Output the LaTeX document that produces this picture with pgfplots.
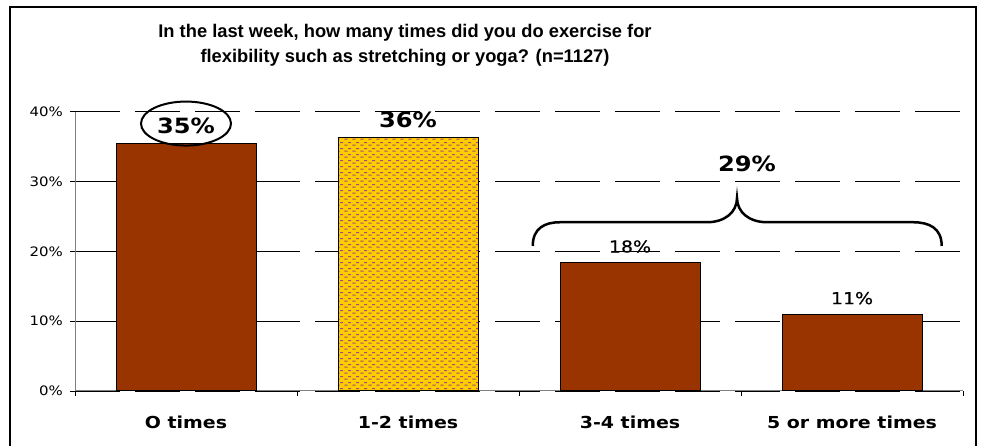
\documentclass[border=0pt]{standalone}
\usepackage{pgfplots}
\pgfplotsset{compat=1.18}
\usepackage{fontspec}
\setmainfont{DejaVu Sans}[FakeStretch=1.15]
\newfontfamily\semibold{DejaVu Sans}[FakeStretch=1.15, FakeBold=0.6]
\newfontfamily\titlefont{Liberation Sans}
\usetikzlibrary{patterns}

\definecolor{barbrown}{HTML}{993300}
\definecolor{bargold}{HTML}{FFCC00}
\definecolor{dotplum}{HTML}{A0507A}

% small staggered dashes for the 1-2 times bar
\pgfdeclarepatternformonly{staggerdash}{\pgfpointorigin}{\pgfpoint{8pt}{6pt}}{\pgfpoint{8pt}{6pt}}{%
  \pgfsetlinewidth{1.1pt}
  \pgfpathmoveto{\pgfpoint{0.5pt}{1pt}}\pgfpathlineto{\pgfpoint{4pt}{1pt}}
  \pgfpathmoveto{\pgfpoint{4.5pt}{4pt}}\pgfpathlineto{\pgfpoint{8pt}{4pt}}
  \pgfusepath{stroke}}

\begin{document}
\begin{tikzpicture}[x=1pt,y=1pt]
\useasboundingbox (0,0) rectangle (982,446);
% chart frame
\draw[line width=1.5pt] (10,-20) -- (10,439) -- (976,439) -- (976,-20);
% title (anchored on the baseline of its second line)
\node[font=\titlefont\bfseries\fontsize{18.3}{25}\selectfont, align=center, anchor=base]
  at (405,383) {In the last week, how many times did you do exercise for\\flexibility such as stretching or yoga? (n=1127)};

\begin{axis}[
  at={(75pt,55pt)}, anchor=south west,
  scale only axis, width=888pt, height=279.3pt,
  xmin=-0.5, xmax=3.5, ymin=0, ymax=40,
  axis x line=bottom, axis y line=left,
  axis line style={-, draw=gray, line width=1pt},
  xtick={0,1,2,3},
  xticklabels={O times, 1-2 times, 3-4 times, 5 or more times},
  minor xtick={-0.5,0.5,1.5,2.5,3.5},
  major x tick style={draw=none},
  minor tick length=5pt,
  ytick={0,10,20,30,40},
  yticklabel={\pgfmathprintnumber{\tick}\%},
  /pgf/number format/assume math mode=true,
  tick align=outside, major tick length=5pt,
  tick style={black, line width=0.8pt},
  ymajorgrids,
  major grid style={black, line width=0.9pt, dash pattern=on 45pt off 15pt},
  yticklabel style={font=\fontsize{13}{15}\selectfont, anchor=east, inner sep=0pt, xshift=-7pt},
  xticklabel style={font=\bfseries\fontsize{16.5}{19}\selectfont, anchor=base, inner sep=0pt, yshift=-33pt},
  ybar, bar width=140pt, bar shift=0pt,
  every axis plot/.append style={draw=black, line width=1pt},
  nodes near coords={\pgfmathprintnumber[fixed,precision=0]{\pgfplotspointmeta}\%},
  every node near coord/.append style={anchor=base, inner sep=0pt, yshift=10pt, black},
  clip=false,
]
% share of respondents, percent
\addplot[fill=barbrown,
  every node near coord/.append style={font=\bfseries\fontsize{21}{24}\selectfont}]
  coordinates {(0,35.4)};
\addplot[fill=bargold, postaction={pattern=staggerdash, pattern color=dotplum},
  every node near coord/.append style={font=\bfseries\fontsize{21}{24}\selectfont}]
  coordinates {(1,36.3)};
\addplot[fill=barbrown,
  every node near coord/.append style={font=\semibold\fontsize{16.5}{19}\selectfont}]
  coordinates {(2,18.4) (3,11.0)};

% circled label on the first bar
\draw[line width=2pt] (axis cs:0,38.3) ellipse [x radius=45pt, y radius=22pt];
% brace grouping 3-4 and 5+ times
\draw[line width=2.5pt]
  (axis cs:1.562,20.77) .. controls (axis cs:1.562,23.35) and (axis cs:1.617,24.17) .. (axis cs:1.685,24.17)
  -- (axis cs:2.347,24.17) .. controls (axis cs:2.428,24.17) and (axis cs:2.482,25.64) .. (axis cs:2.482,27.65)
  .. controls (axis cs:2.482,25.64) and (axis cs:2.536,24.17) .. (axis cs:2.617,24.17)
  -- (axis cs:3.275,24.17) .. controls (axis cs:3.347,24.17) and (axis cs:3.404,23.35) .. (axis cs:3.404,20.77);
\node[anchor=base, font=\bfseries\fontsize{21}{24}\selectfont] at (axis cs:2.527,31.4) {29\%};
\end{axis}
\end{tikzpicture}
\end{document}
